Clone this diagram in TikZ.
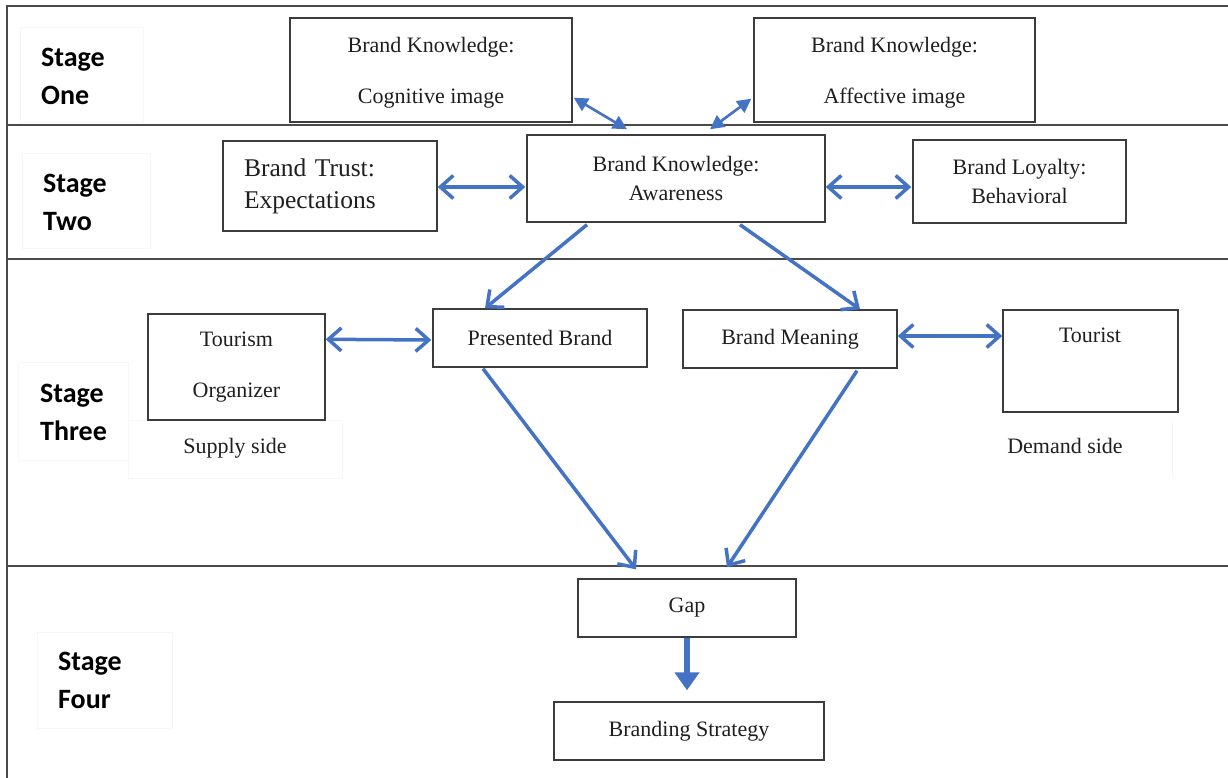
\documentclass[tikz,border=0pt]{standalone}
\usepackage{fontspec}
\setmainfont{Liberation Serif}
\newfontfamily\stagefont{Carlito}
\usetikzlibrary{arrows.meta,calc}
\definecolor{flow}{HTML}{4472C4}
\definecolor{edge}{HTML}{3C3C3C}
\definecolor{rule}{HTML}{4A4A4A}
\begin{document}
\begin{tikzpicture}[x=1pt,y=-1pt,
  box/.style={draw=edge,line width=1.4pt,fill=white,inner sep=0pt,align=center,
    font=\fontsize{22}{26}\selectfont,text=black!88},
  stagelbl/.style={anchor=west,align=left,inner sep=0pt,
    font=\stagefont\bfseries\fontsize{28}{38}\selectfont},
  sidelbl/.style={inner sep=0pt,font=\fontsize{22}{26}\selectfont,text=black!88},
  faint/.style={draw=black!3,line width=0.8pt},
  link/.style={draw=flow,line width=3.5pt,{Straight Barb[length=13pt,width=23pt]}-{Straight Barb[length=13pt,width=23pt]}},
  flowto/.style={draw=flow,line width=3.5pt,-{Straight Barb[length=13pt,width=23pt]}},
  toplink/.style={draw=flow,line width=2.6pt,{Triangle[length=14pt,width=14pt]}-{Triangle[length=14pt,width=14pt]}},
  bigto/.style={draw=flow,line width=6pt,-{Triangle[length=18pt,width=24pt]}}
]
\useasboundingbox (0,0) rectangle (1228,778);
\fill[white] (0,0) rectangle (1228,778);

% stage frame
\draw[rule,line width=2.2pt] (1228,6) -- (7,6) -- (7,778);
\foreach \yy in {125,259,566}
  \draw[rule,line width=2.2pt] (7,\yy) -- (1228,\yy);

% faint label frames
\draw[faint] (20,27) rectangle (143,122);
\draw[faint] (22,153) rectangle (150,248);
\draw[faint] (18,362) rectangle (128,460);
\draw[faint] (128,420) rectangle (342,478);
\draw[faint] (37,632) rectangle (172,728);
\draw[faint] (1172,420) -- (1172,478);

% stage labels
\node[stagelbl] (s1) at (41,76) {Stage\\One};
\node[stagelbl] (s2) at (43,202) {Stage\\Two};
\node[stagelbl] (s3) at (40,412) {Stage\\Three};
\node[stagelbl] (s4) at (58,680) {Stage\\Four};

% boxes
\node[box,minimum width=282pt,minimum height=104pt,text depth=-6pt] (cog) at (431,70)
  {Brand Knowledge:\\[25pt]Cognitive image};
\node[box,minimum width=281pt,minimum height=104pt,text depth=-6pt] (aff) at (894.5,70)
  {Brand Knowledge:\\[25pt]Affective image};
\node[box,minimum width=298pt,minimum height=87pt] (awa) at (676,178.5)
  {Brand Knowledge:\\[3pt]Awareness};
\node[box,minimum width=214pt,minimum height=90pt,text width=172pt,align=left,
  font=\fontsize{25.5}{32}\selectfont] (trust) at (330,186)
  {Brand Trust:\\Expectations};
\node[box,minimum width=213pt,minimum height=83pt] (loyal) at (1019.5,181.5)
  {Brand Loyalty:\\[3pt]Behavioral};
\node[box,minimum width=177pt,minimum height=106pt] (org) at (236.5,367)
  {Tourism\\[25pt]Organizer};
\node[box,minimum width=214pt,minimum height=58pt] (pres) at (540,338) {Presented Brand};
\node[box,minimum width=214pt,minimum height=58pt] (mean) at (790,339) {Brand Meaning};
\node[box,minimum width=175pt,minimum height=102pt] (tour) at (1090.5,361) {};
\node[sidelbl] (tourtxt) at (1090,335) {Tourist};
\node[box,minimum width=218pt,minimum height=58pt] (gap) at (687,608) {Gap};
\node[box,minimum width=270pt,minimum height=58pt] (strat) at (689,731) {Branding Strategy};

% side captions
\node[sidelbl] (supply) at (235,448) {Supply side};
\node[sidelbl] (demand) at (1065,446) {Demand side};

% connectors
\draw[toplink] ($(cog.south east)+(1,-25)$) -- ($(awa.north)+(-49,-5)$);
\draw[toplink] ($(aff.south west)+(-2,-24)$) -- ($(awa.north)+(34,-5)$);
\draw[link] ($(trust.east)+(0,1)$) -- ($(awa.west)+(-1,8.5)$);
\draw[link] ($(awa.east)+(0,8.5)$) -- ($(loyal.west)+(-1,5.5)$);
\draw[link] ($(org.north east)+(0,26)$) -- ($(pres.west)+(-1,2)$);
\draw[link] ($(mean.east)+(0,-3)$) -- ($(tour.west)+(0,-25)$);
\draw[flowto] ($(awa.south)+(-89,2)$) -- ($(pres.north)+(-55,0)$);
\draw[flowto] ($(awa.south)+(64,2)$) -- ($(mean.north)+(70,0)$);
\draw[flowto] ($(pres.south)+(-57,1)$) -- ($(gap.north)+(-51,-9)$);
\draw[flowto] ($(mean.south)+(67,2)$) -- ($(gap.north)+(40,-11)$);
\draw[bigto] (gap.south) -- ($(strat.north)+(-2,-11)$);
\end{tikzpicture}
\end{document}
